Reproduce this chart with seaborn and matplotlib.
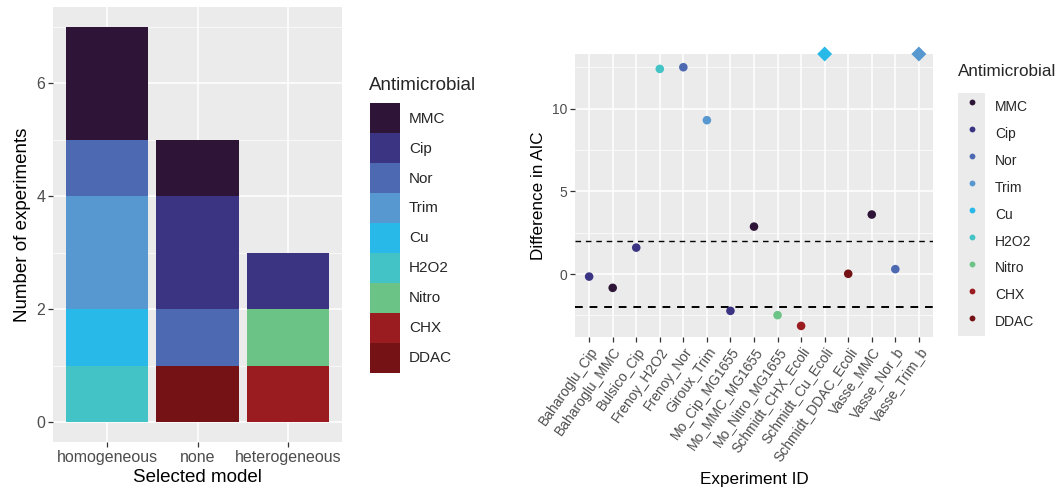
import matplotlib
matplotlib.use("Agg")
import matplotlib.pyplot as plt
from matplotlib.patches import Patch
from matplotlib.lines import Line2D
from matplotlib.legend_handler import HandlerTuple
from matplotlib.ticker import MultipleLocator
import numpy as np
import pandas as pd
import seaborn as sns

# ---- data -------------------------------------------------------------
antimicrobials = ["MMC", "Cip", "Nor", "Trim", "Cu", "H2O2", "Nitro", "CHX", "DDAC"]
colors = ["#2E1437", "#3B3482", "#4D69B2", "#5898D0", "#29B9E8",
          "#44C3C6", "#6BC386", "#9A1C20", "#751215"]

models = ["homogeneous", "none", "heterogeneous"]
bar_model = ["homogeneous", "homogeneous", "homogeneous", "homogeneous", "homogeneous",
             "none", "none", "none", "none",
             "heterogeneous", "heterogeneous", "heterogeneous"]
bar_drug = ["MMC", "Nor", "Trim", "Cu", "H2O2",
            "MMC", "Cip", "Nor", "DDAC",
            "Cip", "Nitro", "CHX"]
bar_count = [2, 1, 2, 1, 1,
             1, 2, 1, 1,
             1, 1, 1]

experiments = ["Baharoglu_Cip", "Baharoglu_MMC", "Bulsico_Cip", "Frenoy_H2O2",
               "Frenoy_Nor", "Giroux_Trim", "Mo_Cip_MG1655", "Mo_MMC_MG1655",
               "Mo_Nitro_MG1655", "Schmidt_CHX_Ecoli", "Schmidt_Cu_Ecoli",
               "Schmidt_DDAC_Ecoli", "Vasse_MMC", "Vasse_Nor_b", "Vasse_Trim_b"]
exp_drug = ["Cip", "MMC", "Cip", "H2O2", "Nor", "Trim", "Cip", "MMC",
            "Nitro", "CHX", "Cu", "DDAC", "MMC", "Nor", "Trim"]
# values above the plotted range are shown capped at the top edge
aic_diff = [-0.15, -0.83, 1.6, 12.4, 12.5, 9.3, -2.22, 2.87,
            -2.48, -3.13, 13.3, 0.02, 3.6, 0.3, 13.3]
capped = [False] * 10 + [True] + [False] * 3 + [True]

aic_threshold = [2, -2]

# ---- style ------------------------------------------------------------
sns.set_theme(style="darkgrid")
plt.rcParams["font.family"] = ["Liberation Sans", "DejaVu Sans"]
plt.rcParams["axes.facecolor"] = "#EBEBEB"
palette = dict(zip(antimicrobials, colors))

fig = plt.figure(figsize=(10.64, 4.91), dpi=100)
W, H = 1064, 491


def style_axes(ax, tick_size):
    for s in ax.spines.values():
        s.set_visible(False)
    ax.grid(which="major", color="white", linewidth=1.1)
    ax.grid(which="minor", color="white", linewidth=0.5)
    ax.set_axisbelow(True)
    ax.tick_params(axis="both", which="major", length=3.5, width=0.9,
                   color="#333333", labelcolor="#4D4D4D",
                   labelsize=tick_size, pad=2, bottom=True, left=True)
    ax.tick_params(axis="both", which="minor", length=0)


# ---- left: stacked counts ---------------------------------------------
ax1 = fig.add_axes([53 / W, 1 - 442 / H, 289 / W, 435 / H])
bars = pd.DataFrame({"model": pd.Categorical(bar_model, categories=models),
                     "Antimicrobial": bar_drug, "n": bar_count})
sns.histplot(data=bars, x="model", hue="Antimicrobial", weights="n",
             hue_order=antimicrobials, palette=palette, multiple="stack",
             discrete=True, shrink=0.91, alpha=1, linewidth=0,
             legend=False, ax=ax1)
ax1.set_xlim(-0.6, 2.6)
ax1.set_ylim(-0.35, 7.35)
ax1.yaxis.set_major_locator(MultipleLocator(2))
ax1.yaxis.set_minor_locator(MultipleLocator(1))
ax1.set_xticks(range(len(models)))
ax1.set_xticklabels(models)
style_axes(ax1, 11.5)
ax1.set_xlabel("Selected model", fontsize=13.5, color="black", labelpad=3)
ax1.set_ylabel("Number of experiments", fontsize=13.5, color="black", labelpad=4)

fig.text(369 / W, 1 - 86 / H, "Antimicrobial", fontsize=13.5, ha="left", va="center")
handles1 = [Patch(facecolor=palette[a], edgecolor="none") for a in antimicrobials]
fig.legend(handles1, antimicrobials, loc="upper left",
           bbox_to_anchor=(370 / W, 1 - 103 / H), frameon=False,
           fontsize=11, handlelength=1.95, handleheight=2.64, labelspacing=0,
           handletextpad=0.6, borderpad=0, borderaxespad=0)

# ---- right: AIC difference per experiment -----------------------------
ax2 = fig.add_axes([575 / W, 1 - 337 / H, 358 / W, 283 / H])
pts = pd.DataFrame({"Experiment": pd.Categorical(experiments, categories=experiments),
                    "aic": aic_diff, "Antimicrobial": exp_drug, "capped": capped})
for y in aic_threshold:
    ax2.axhline(y, color="black", linestyle=(0, (4, 3.5)),
                linewidth=1.0 if y > 0 else 1.4, zorder=1.5)
sns.scatterplot(data=pts, x="Experiment", y="aic", hue="Antimicrobial",
                hue_order=antimicrobials, palette=palette,
                style="capped", markers={False: "o", True: "D"},
                size="capped", sizes={False: 38, True: 58},
                edgecolor="none", legend=False, ax=ax2, zorder=3, clip_on=False)
ax2.set_xticks(range(len(experiments)))
ax2.set_xticklabels(experiments, rotation=55, ha="right", rotation_mode="anchor")
ax2.set_xlim(-0.6, len(experiments) - 0.4)
ax2.set_ylim(-3.8, 13.3)
ax2.yaxis.set_major_locator(MultipleLocator(5))
ax2.yaxis.set_minor_locator(MultipleLocator(2.5))
style_axes(ax2, 10)
ax2.set_xlabel("Experiment ID", fontsize=12.3, color="black", labelpad=6)
ax2.set_ylabel("Difference in AIC", fontsize=12.3, color="black", labelpad=4)

fig.text(958 / W, 1 - 72 / H, "Antimicrobial", fontsize=12.3, ha="left", va="center")
handles2 = [(Patch(facecolor="#EBEBEB", edgecolor="none"),
             Line2D([], [], linestyle="none", marker="o", markersize=4.2,
                    markerfacecolor=palette[a], markeredgecolor="none"))
            for a in antimicrobials]
fig.legend(handles2, antimicrobials, loc="upper left",
           bbox_to_anchor=(958 / W, 1 - 93 / H), frameon=False,
           fontsize=10, handlelength=1.95, handleheight=2.61, labelspacing=0,
           handletextpad=0.7, borderpad=0, borderaxespad=0,
           handler_map={tuple: HandlerTuple(ndivide=1, pad=0)})

fig.savefig("out.png", dpi=100)
